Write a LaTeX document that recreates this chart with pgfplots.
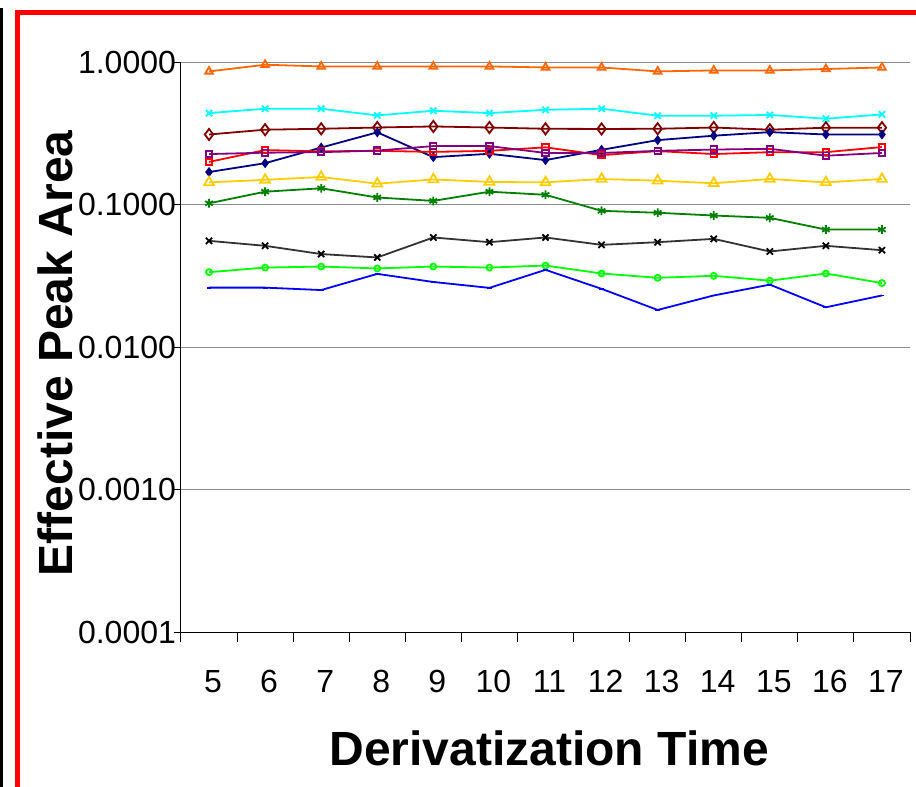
\documentclass[border=0pt]{standalone}
\usepackage{pgfplots}
\usepackage{pgfplotstable}
\pgfplotsset{compat=1.18}
\usepackage{fontspec}
\setmainfont{Liberation Sans}

\definecolor{sorange}{HTML}{FF6600}
\definecolor{scyan}{HTML}{00FFFF}
\definecolor{sdred}{HTML}{800000}
\definecolor{snavy}{HTML}{000080}
\definecolor{sred}{HTML}{FF0000}
\definecolor{spurple}{HTML}{800080}
\definecolor{sgold}{HTML}{FFCC00}
\definecolor{sgreen}{HTML}{008000}
\definecolor{sdgray}{HTML}{333333}
\definecolor{slime}{HTML}{00FF00}
\definecolor{sblue}{HTML}{0000FF}

% effective peak area per derivatization time
\pgfplotstableread{
t  orange cyan  dred  navy  red   purple gold  green  black  lime   blue
5  0.859  0.438 0.310 0.169 0.199 0.226  0.143 0.102  0.0556 0.0335 0.0261
6  0.957  0.470 0.335 0.195 0.241 0.231  0.149 0.123  0.0513 0.0361 0.0261
7  0.931  0.470 0.340 0.251 0.236 0.233  0.156 0.130  0.0449 0.0367 0.0251
8  0.931  0.422 0.347 0.321 0.238 0.239  0.140 0.112  0.0425 0.0356 0.0326
9  0.931  0.455 0.353 0.215 0.234 0.257  0.150 0.106  0.0587 0.0367 0.0286
10 0.931  0.438 0.347 0.227 0.238 0.257  0.144 0.123  0.0544 0.0361 0.0260
11 0.916  0.462 0.340 0.205 0.252 0.230  0.143 0.117  0.0587 0.0373 0.0348
12 0.916  0.470 0.339 0.242 0.222 0.230  0.151 0.0903 0.0521 0.0328 0.0256
13 0.859  0.420 0.340 0.283 0.237 0.238  0.147 0.0875 0.0544 0.0306 0.0182
14 0.873  0.420 0.347 0.304 0.226 0.243  0.141 0.0837 0.0574 0.0316 0.0230
15 0.873  0.425 0.335 0.322 0.233 0.246  0.151 0.0806 0.0468 0.0292 0.0274
16 0.893  0.400 0.346 0.310 0.233 0.220  0.143 0.0667 0.0513 0.0328 0.0190
17 0.916  0.429 0.346 0.310 0.253 0.230  0.151 0.0667 0.0478 0.0281 0.0230
}\peaks

\begin{document}
\begin{tikzpicture}
\path[use as bounding box] (0,0) rectangle (458pt,393.5pt);
% page frame
\draw[black, line width=1.3pt] (0.65pt,0) -- (0.65pt,389.5pt);
\draw[sred, line width=2.5pt, line join=miter] (458pt,387.15pt) -- (8.9pt,387.15pt) -- (8.9pt,0);

\begin{axis}[
    at={(90.5pt,77.5pt)}, anchor=south west,
    scale only axis,
    width=364.5pt, height=285pt,
    ymode=log,
    xmin=4.5, xmax=17.5,
    ymin=1e-4, ymax=1,
    axis x line=bottom, axis y line=left,
    axis line style={-, black, line width=0.5pt},
    xtick={5,6,7,8,9,10,11,12,13,14,15,16,17},
    xticklabels={5,6,7,8,9,10,11,12,13,14,15,16,17},
    minor xtick={4.5,5.5,...,17.5},
    ytick={0.0001,0.001,0.01,0.1,1},
    yticklabels={0.0001,0.0010,0.0100,0.1000,1.0000},
    yminorticks=false,
    tick align=outside,
    major tick length=3.5pt,
    minor tick length=5pt,
    major x tick style={draw=none},
    tick style={black, line width=0.5pt},
    ymajorgrids,
    major grid style={black!45, line width=0.5pt},
    tick label style={font=\fontsize{16}{19}\selectfont},
    xticklabel style={anchor=base, yshift=-26.5pt, xshift=2pt},
    yticklabel style={anchor=east, xshift=4.5pt},
    xlabel={Derivatization Time},
    ylabel={Effective Peak Area},
    every axis x label/.style={at={(axis description cs:0.505,-0.2035)}, anchor=center,
        font=\fontsize{24}{28}\selectfont\bfseries},
    every axis y label/.style={at={(axis description cs:-0.173,0.489)}, anchor=center, rotate=90,
        font=\fontsize{24}{28}\selectfont\bfseries},
    every axis plot/.append style={line width=0.9pt},
]
\addplot[sorange, mark=triangle, mark size=2.2pt] table[x=t, y=orange] {\peaks};
\addplot[scyan, mark=x, mark size=2.2pt] table[x=t, y=cyan] {\peaks};
\addplot[sdred, mark=diamond, mark size=2.8pt] table[x=t, y=dred] {\peaks};
\addplot[snavy, mark=diamond*, mark size=1.8pt] table[x=t, y=navy] {\peaks};
\addplot[sred, mark=square, mark size=1.6pt] table[x=t, y=red] {\peaks};
\addplot[spurple, mark=square, mark size=1.6pt] table[x=t, y=purple] {\peaks};
\addplot[sgold, mark=triangle, mark size=2.8pt] table[x=t, y=gold] {\peaks};
\addplot[sgreen, mark=asterisk, mark size=2.2pt] table[x=t, y=green] {\peaks};
\addplot[sdgray, mark=x, mark size=2.2pt, mark options={black}] table[x=t, y=black] {\peaks};
\addplot[slime, mark=o, mark size=1.5pt] table[x=t, y=lime] {\peaks};
\addplot[sblue, mark=-, mark size=1.2pt] table[x=t, y=blue] {\peaks};
\end{axis}
\end{tikzpicture}
\end{document}
